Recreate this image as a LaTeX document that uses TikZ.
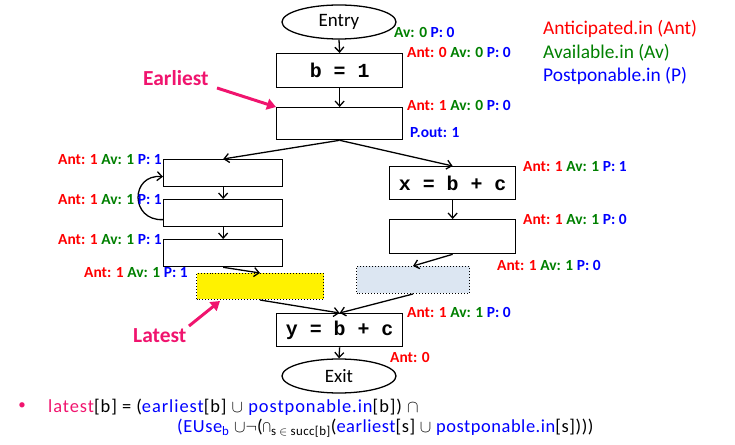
\documentclass[tikz,border=0pt]{standalone}
\usepackage{fontspec}
\setmainfont{Carlito}
\newfontfamily\codefont{Liberation Mono}
\newfontfamily\formfonta[LetterSpace=5.1]{Carlito}
\newfontfamily\formfontb[LetterSpace=3]{Carlito}
\usetikzlibrary{arrows.meta,shapes.geometric}
\definecolor{pinkc}{RGB}{240,20,110}
\definecolor{redc}{RGB}{255,0,0}
\definecolor{greenc}{RGB}{0,128,0}
\definecolor{bluec}{RGB}{0,0,255}
\definecolor{paleblue}{RGB}{220,230,242}
\tikzset{
  blk/.style={draw,line width=1.3pt,rectangle,inner sep=0pt,anchor=north west},
  oval/.style={draw,line width=1.3pt,ellipse,minimum width=114bp,minimum height=34bp,inner sep=0pt,font=\fontsize{19}{22}\selectfont},
  flow/.style={line width=1.3pt,-{Straight Barb[length=5bp,width=9bp,line width=1.3pt]}},
  lab/.style={anchor=base west,inner sep=0pt,font=\fontsize{15.5}{18}\selectfont\bfseries},
  leg/.style={anchor=base west,inner sep=0pt,font=\fontsize{19.5}{22}\selectfont},
  callout/.style={anchor=base west,inner sep=0pt,text=pinkc,font=\fontsize{21.5}{24}\selectfont\bfseries},
  pinkarrow/.style={draw=pinkc,line width=3pt,-{Triangle[length=9bp,width=11bp]}},
  code/.style={font=\codefont\bfseries\fontsize{20}{22}\selectfont},
  forma/.style={anchor=base west,inner sep=0pt,font=\formfonta\fontsize{18.5}{20}\selectfont},
  formb/.style={anchor=base west,inner sep=0pt,font=\formfontb\fontsize{18.5}{20}\selectfont}
}
\newcommand{\An}[1]{\textcolor{redc}{Ant: #1}}
\newcommand{\Av}[1]{\textcolor{greenc}{Av: #1}}
\newcommand{\Pp}[1]{\textcolor{bluec}{P: #1}}
\begin{document}
\begin{tikzpicture}[x=1bp,y=-1bp]
\useasboundingbox (0,0) rectangle (735,445);
% main nodes
\node[oval] (entry) at (339,22) {Entry};
\node[blk,minimum width=126bp,minimum height=34bp] (b1) at (276,53) {};
\node[code] at (b1.center) {b = 1};
\node[blk,minimum width=126bp,minimum height=32bp] (e1) at (276,107) {};
\node[blk,minimum width=119bp,minimum height=27bp] (A) at (163,159) {};
\node[blk,minimum width=119bp,minimum height=27bp] (B) at (163,199) {};
\node[blk,minimum width=119bp,minimum height=27bp] (C) at (163,239) {};
\node[blk,line width=1pt,dotted,fill=yellow,minimum width=127bp,minimum height=26bp] (Y) at (196,273) {};
\node[blk,minimum width=126bp,minimum height=33bp] (X) at (389,166) {};
\node[code] at (X.center) {x = b + c};
\node[blk,minimum width=126bp,minimum height=34bp] (R) at (389,219) {};
\node[blk,line width=1pt,dotted,fill=paleblue,minimum width=113bp,minimum height=27bp] (Bl) at (356,266) {};
\node[blk,minimum width=126bp,minimum height=33bp] (Yb) at (276,313) {};
\node[code] at (Yb.center) {y = b + c};
\node[oval] (exit) at (339,376) {Exit};
% connectors
\draw[flow] (entry.south) -- (b1.north);
\draw[flow] (b1.south) -- (e1.north);
\draw[flow] (e1.south) -- (A.north);
\draw[flow] (e1.south) -- (X.north);
\draw[flow] (A.south) -- (B.north);
\draw[flow] (B.south) -- (C.north);
\draw[flow] ([yshift=-6.5bp]B.west) .. controls (130,221) and (130,174) .. ([yshift=-3.5bp]A.west);
\draw[flow] (C.south) -- (Y.north);
\draw[flow] (X.south) -- (R.north);
\draw[flow] (R.south) -- (Bl.north);
\draw[flow] (Y.south) -- (Yb.north);
\draw[flow] (Bl.south) -- (Yb.north);
\draw[flow] (Yb.south) -- (exit.north);
% data-flow labels
\node[lab] (l0) at (394,38) {\Av{0} \Pp{0}};
\node[lab] (l1) at (407,58) {\An{0} \Av{0} \Pp{0}};
\node[lab] (l2) at (407,111) {\An{1} \Av{0} \Pp{0}};
\node[lab,text=bluec] (l3) at (410,138) {P.out: 1};
\node[lab] (l4) at (58,165) {\An{1} \Av{1} \Pp{1}};
\node[lab] (l5) at (58,205) {\An{1} \Av{1} \Pp{1}};
\node[lab] (l6) at (58,245) {\An{1} \Av{1} \Pp{1}};
\node[lab] (l7) at (84,278) {\An{1} \Av{1} \Pp{1}};
\node[lab] (l8) at (523,172) {\An{1} \Av{1} \Pp{1}};
\node[lab] (l9) at (523,225) {\An{1} \Av{1} \Pp{0}};
\node[lab] (l10) at (497,271) {\An{1} \Av{1} \Pp{0}};
\node[lab] (l11) at (407,318) {\An{1} \Av{1} \Pp{0}};
\node[lab] (l12) at (390,363) {\An{0}};
% legend
\node[leg,text=redc] (g1) at (543,35) {Anticipated.in (Ant)};
\node[leg,text=greenc] (g2) at (543,59) {Available.in (Av)};
\node[leg,text=bluec] (g3) at (543,82) {Postponable.in (P)};
% callouts
\node[callout] (earl) at (143,86) {Earliest};
\node[callout] (late) at (133,343) {Latest};
\coordinate (ea) at (217,88);
\coordinate (la) at (189,326);
\draw[pinkarrow] (ea) -- (e1.north west);
\draw[pinkarrow] (la) -- (220,301);
% formula
\node[anchor=center,text=pinkc,font=\fontsize{15}{18}\selectfont] (bul) at (22,406) {\textbullet};
\node[forma] (f1) at (48,412) {\textcolor{pinkc}{latest}[b] = (\textcolor{bluec}{earliest}[b] $\cup$ \textcolor{bluec}{postponable.in}[b]) $\cap$};
\node[formb] (f2) at (177,432) {\textcolor{bluec}{(EUse\textsubscript{b}} $\cup\neg$(\smash{$\bigcap$}\textsubscript{s $\in$ succ[b]}(\textcolor{bluec}{earliest}[s] $\cup$ \textcolor{bluec}{postponable.in}[s])))};
\end{tikzpicture}
\end{document}
